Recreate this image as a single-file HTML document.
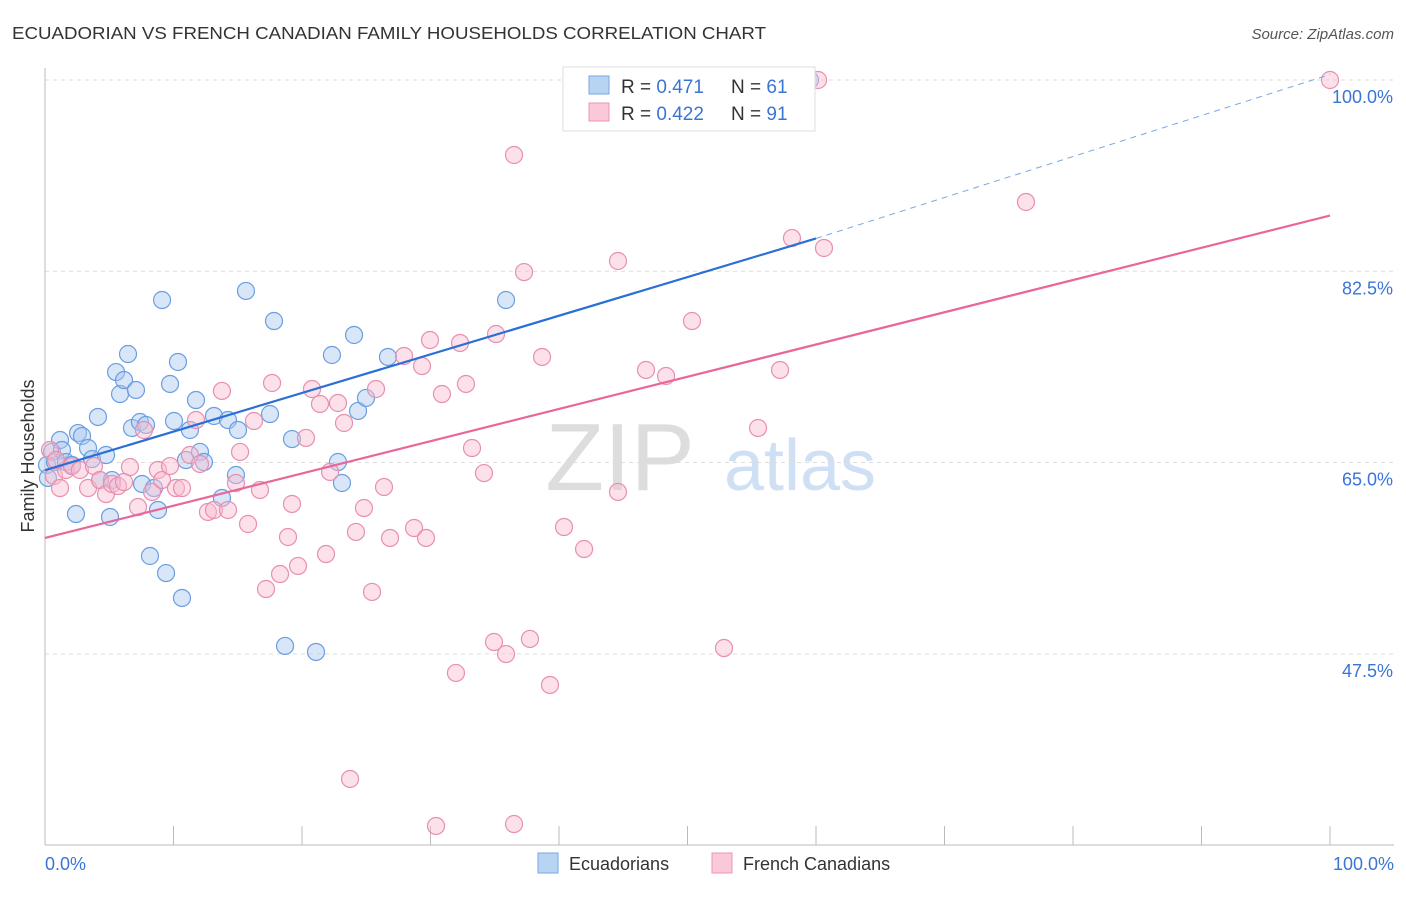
<!DOCTYPE html>
<html><head><meta charset="utf-8">
<style>
body{margin:0;background:#fff;font-family:"Liberation Sans",sans-serif;}
svg text{font-family:"Liberation Sans",sans-serif;}
</style></head>
<body>
<svg id="chart" width="1406" height="892" xmlns="http://www.w3.org/2000/svg">
<text x="12" y="39" font-size="17.5" fill="#333" textLength="754" lengthAdjust="spacingAndGlyphs">ECUADORIAN VS FRENCH CANADIAN FAMILY HOUSEHOLDS CORRELATION CHART</text>
<text x="1394" y="39" font-size="15" fill="#555" text-anchor="end" font-style="italic">Source: ZipAtlas.com</text>
<text x="620" y="490" font-size="96" fill="#ddd" font-family="Liberation Serif" text-anchor="middle">ZIP</text>
<text x="800" y="490" font-size="72" fill="#cfe0f5" text-anchor="middle">atlas</text>
<g id="grid"></g>
<g id="axes"></g>
<g id="pts"></g>
<g id="lines"></g>
<text x="34" y="456" font-size="18" fill="#333" text-anchor="middle" transform="rotate(-90 34 456)">Family Households</text>
<text x="45" y="870" font-size="18" fill="#3a75d6">0.0%</text>
<text x="1394" y="870" font-size="18" fill="#3a75d6" text-anchor="end">100.0%</text>
<g>
<rect x="563" y="67" width="252" height="64" fill="#fff" stroke="#ddd"/>
<rect x="589" y="76" width="20" height="18" fill="#b8d4f5" stroke="#7aa7e0"/>
<rect x="589" y="103" width="20" height="18" fill="#fbc8d8" stroke="#ec95b3"/>
<text x="621" y="93" font-size="19" fill="#333">R = <tspan fill="#3a75d6">0.471</tspan></text>
<text x="731" y="93" font-size="19" fill="#333">N = <tspan fill="#3a75d6">61</tspan></text>
<text x="621" y="120" font-size="19" fill="#333">R = <tspan fill="#3a75d6">0.422</tspan></text>
<text x="731" y="120" font-size="19" fill="#333">N = <tspan fill="#3a75d6">91</tspan></text>
</g>
<g>
<rect x="538" y="853" width="20" height="20" fill="#b8d4f5" stroke="#7aa7e0"/>
<text x="569" y="870" font-size="18" fill="#333">Ecuadorians</text>
<rect x="712" y="853" width="20" height="20" fill="#fbc8d8" stroke="#ec95b3"/>
<text x="743" y="870" font-size="18" fill="#333">French Canadians</text>
</g>
</svg>
<script>
const yTicks=[100,82.5,65,47.5];
const xTicks=[0,10,20,30,40,50,60,70,80,90,100];
const bluePx=[[52,452],[47,465],[55,462],[60,440],[62,450],[66,462],[72,465],[76,514],[78,433],[82,436],[88,448],[92,459],[98,417],[100,480],[106,455],[110,517],[112,480],[116,372],[120,394],[124,380],[128,354],[132,428],[136,390],[140,422],[142,484],[146,425],[150,556],[154,488],[158,510],[162,300],[166,573],[170,384],[174,421],[178,362],[182,598],[186,460],[190,430],[196,400],[200,452],[204,462],[214,416],[222,498],[228,420],[236,475],[238,430],[246,291],[270,414],[274,321],[285,646],[292,439],[316,652],[332,355],[338,462],[342,483],[354,335],[358,411],[366,398],[388,357],[506,300],[810,80],[48,478]];
const pinkPx=[[50,450],[54,476],[60,488],[66,470],[72,466],[80,470],[88,488],[94,466],[100,480],[106,494],[112,484],[118,486],[124,482],[130,467],[138,507],[144,430],[152,492],[158,470],[162,480],[170,466],[176,488],[182,488],[190,455],[196,420],[200,464],[208,512],[214,510],[222,391],[228,510],[236,483],[240,452],[248,524],[254,421],[260,490],[266,589],[272,383],[280,574],[288,537],[292,504],[298,566],[306,438],[312,389],[320,404],[326,554],[330,472],[338,403],[344,423],[350,779],[356,532],[364,508],[372,592],[376,389],[384,487],[390,538],[404,356],[414,528],[422,366],[426,538],[436,826],[442,394],[456,673],[460,343],[466,384],[472,448],[484,473],[494,642],[496,334],[506,654],[514,824],[514,155],[524,272],[530,639],[542,357],[550,685],[564,527],[584,549],[618,261],[618,492],[646,370],[666,376],[692,321],[724,648],[758,428],[780,370],[792,238],[824,248],[818,80],[1026,202],[1330,80],[56,460],[430,340]];
const fx=p=>(p-45)/12.85, fy=p=>100-(p-80)/10.93;
const blueX=bluePx.map(p=>+fx(p[0]).toFixed(2)), blueY=bluePx.map(p=>+fy(p[1]).toFixed(2));
const pinkX=pinkPx.map(p=>+fx(p[0]).toFixed(2)), pinkY=pinkPx.map(p=>+fy(p[1]).toFixed(2));
const blueLine=[[0,64.3],[60,85.5],[100,100.5]];
const pinkLine=[[0,58.1],[100,87.6]];
const X=v=>45+v*12.85, Y=v=>80+(100-v)*10.93;
const NS="http://www.w3.org/2000/svg";
function mk(t,a,parent){const e=document.createElementNS(NS,t);for(const k in a)e.setAttribute(k,a[k]);document.getElementById(parent).appendChild(e);return e;}
yTicks.forEach(v=>{
 const l=mk('line',{x1:45,x2:1394,y1:Y(v),y2:Y(v),stroke:'#ddd','stroke-dasharray':'4,4'},'grid');
 
 
 const t=mk('text',{x:1393,y:Y(v)+23,'font-size':18,fill:'#3a75d6','text-anchor':'end'},'grid');
 t.textContent=v.toFixed(1)+'%';
 
 
});
let ax=mk('line',{x1:45,x2:45,y1:68,y2:845,stroke:'#bbb'},'axes');


ax=mk('line',{x1:45,x2:1394,y1:845,y2:845,stroke:'#bbb'},'axes');


xTicks.forEach(v=>{
 const l=mk('line',{x1:X(v),x2:X(v),y1:826,y2:845,stroke:'#bbb'},'axes');
 
 
});
function dots(xs,ys,fill,stroke,name){
 xs.forEach((x,i)=>{
  const c=mk('circle',{cx:X(x),cy:Y(ys[i]),r:8.5,fill:fill,'fill-opacity':0.45,stroke:stroke,'stroke-width':1.2},'pts');
  
  
 });
}
dots(blueX,blueY,'#a9c8f0','#6a9ee0','ecuadorian-point');
dots(pinkX,pinkY,'#f8bdd0','#e88fb0','french-canadian-point');
let tl=mk('line',{x1:X(blueLine[0][0]),y1:Y(blueLine[0][1]),x2:X(blueLine[1][0]),y2:Y(blueLine[1][1]),stroke:'#2a6fd6','stroke-width':2.2},'lines');


tl=mk('line',{x1:X(blueLine[1][0]),y1:Y(blueLine[1][1]),x2:X(blueLine[2][0]),y2:Y(blueLine[2][1]),stroke:'#7aa7e0','stroke-width':1,'stroke-dasharray':'6,5'},'lines');


tl=mk('line',{x1:X(pinkLine[0][0]),y1:Y(pinkLine[0][1]),x2:X(pinkLine[1][0]),y2:Y(pinkLine[1][1]),stroke:'#e8679a','stroke-width':2.2},'lines');


</script>
</body></html>
